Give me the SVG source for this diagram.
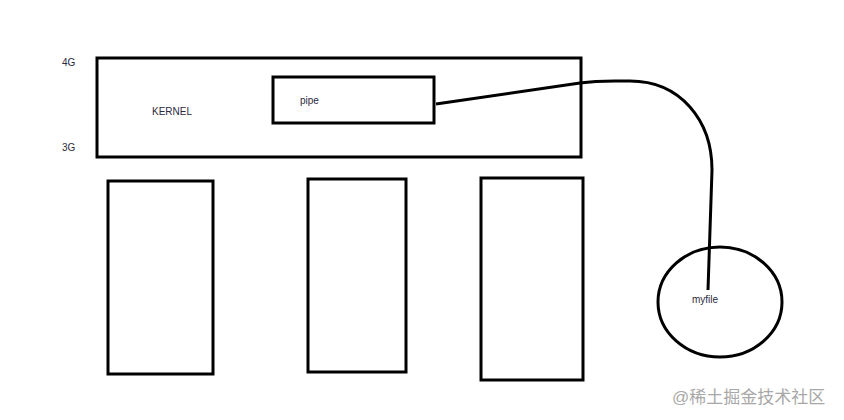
<svg xmlns="http://www.w3.org/2000/svg" width="844" height="420" viewBox="0 0 844 420">
<style>
.box{fill:none;stroke:#000;stroke-width:3}
.lbl{font-family:"Liberation Sans",Arial,sans-serif;font-size:10px;fill:#2a2a40}
.wm{font-family:"Liberation Sans","Noto Sans CJK SC",sans-serif;font-size:17px;fill:#a8a8a8}
</style>
<rect width="844" height="420" fill="#fff"/>
<g id="label-4g"><text class="lbl" x="62" y="66">4G</text></g>
<g id="label-3g"><text class="lbl" x="62" y="151">3G</text></g>
<g id="kernel"><rect class="box" x="97" y="58" width="484" height="99"/><text class="lbl" x="152" y="115">KERNEL</text></g>
<g id="pipe"><rect class="box" x="273" y="77" width="161" height="46"/><text class="lbl" x="300" y="104">pipe</text></g>
<g id="proc1"><rect class="box" x="108" y="181" width="105" height="193"/></g>
<g id="proc2"><rect class="box" x="308" y="179" width="98" height="193"/></g>
<g id="proc3"><rect class="box" x="481" y="178" width="102" height="202"/></g>
<g id="myfile"><ellipse cx="720" cy="302" rx="62" ry="55" fill="none" stroke="#000" stroke-width="3"/><text class="lbl" x="692" y="303">myfile</text></g>
<g id="connectors"><path d="M436,104 L580,83 C600,80 615,81 630,81 C680,81 712,120 712,170 L708,290" fill="none" stroke="#000" stroke-width="3"/></g>
<text class="wm" x="672" y="403">@稀土掘金技术社区</text>
</svg>
